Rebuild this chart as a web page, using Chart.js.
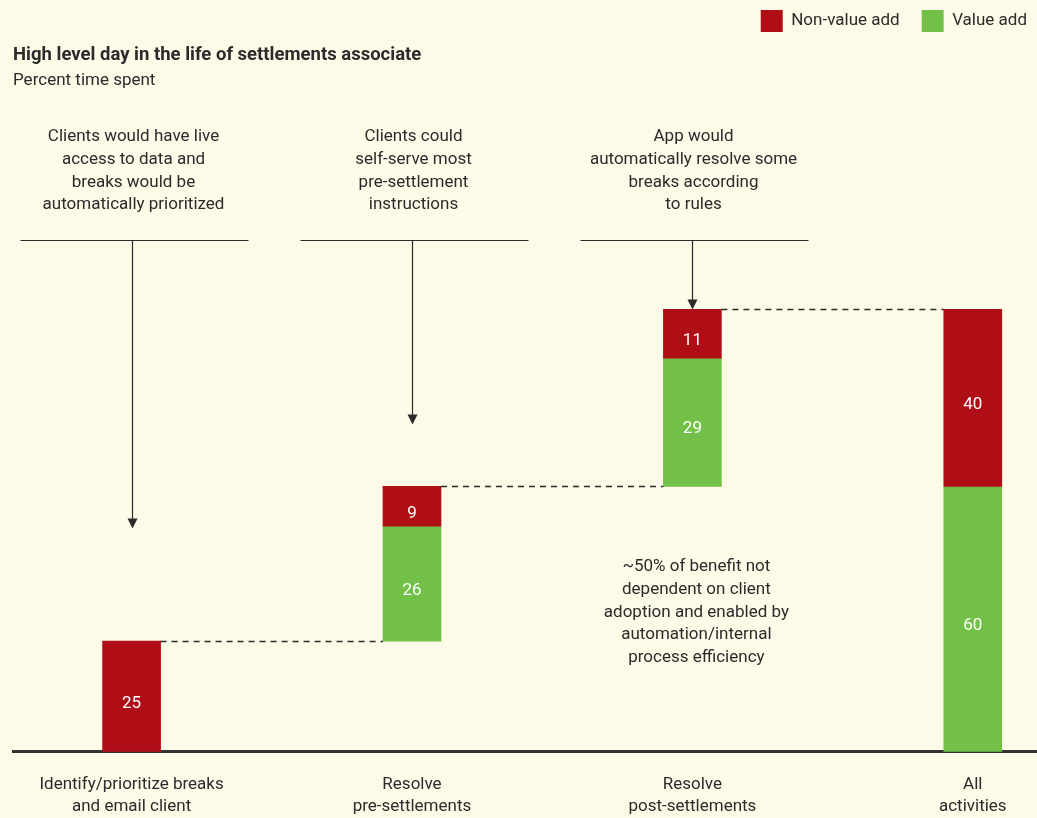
<!DOCTYPE html>
<html>
<head>
<meta charset="utf-8">
<script src="https://cdn.jsdelivr.net/npm/chart.js@4"></script>
<style>
  html, body { margin: 0; padding: 0; background: #fefae8; }
  #wrap { width: 1037px; height: 818px; }
</style>
</head>
<body>
<div id="wrap"><canvas id="chart" width="1037" height="818"></canvas></div>
<script>
// DATA
var categories = [
    ['Identify/prioritize breaks', 'and email client'],
    ['Resolve', 'pre-settlements'],
    ['Resolve', 'post-settlements'],
    ['All', 'activities']
];
var nonValueAdd = [25, 9, 11, 40];
var valueAdd = [0, 26, 29, 60];
var callouts = [
    ['Clients would have live', 'access to data and', 'breaks would be', 'automatically prioritized'],
    ['Clients could', 'self-serve most', 'pre-settlement', 'instructions'],
    ['App would', 'automatically resolve some', 'breaks according', 'to rules']
];
var calloutTargets = [50.5, 74, 100];
var note = ['~50% of benefit not', 'dependent on client', 'adoption and enabled by', 'automation/internal', 'process efficiency'];

var FONT = '"Roboto", "Liberation Sans", sans-serif';
var INK = '#2b2b2b';

// build the waterfall ranges
var redRanges = [];
var greenRanges = [];
var levels = [];
var running = 0;
for (var i = 0; i < categories.length; i++) {
    var last = (i == categories.length - 1);
    var base = last ? 0 : running;
    greenRanges.push(valueAdd[i] ? { x: i, y: [base, base + valueAdd[i]] } : { x: i, y: null });
    redRanges.push({ x: i, y: [base + valueAdd[i], base + valueAdd[i] + nonValueAdd[i]] });
    running = base + valueAdd[i] + nonValueAdd[i];
    levels.push(running);
}

//PLUGINS
const waterfallExtras = {
    id: 'waterfallExtras',
    afterDatasetsDraw(chart) {
        var ctx = chart.ctx;
        var x = chart.scales.x, y = chart.scales.y;
        var reds = chart.getDatasetMeta(0).data;

        // dashed connectors
        ctx.save();
        ctx.strokeStyle = INK;
        ctx.lineWidth = 1.5;
        ctx.setLineDash([6, 5]);
        for (var i = 0; i < levels.length - 1; i++) {
            var py = Math.round(y.getPixelForValue(levels[i])) + 0.5;
            var a = reds[i], b = reds[i + 1];
            ctx.beginPath();
            ctx.moveTo(a.x + a.width / 2, py);
            ctx.lineTo(b.x - b.width / 2, py);
            ctx.stroke();
        }
        ctx.restore();

        // value labels in the bars
        ctx.save();
        ctx.fillStyle = '#ffffff';
        ctx.font = '17px ' + FONT;
        ctx.textAlign = 'center';
        ctx.textBaseline = 'middle';
        [nonValueAdd, valueAdd].forEach(function(vals, d) {
            chart.getDatasetMeta(d).data.forEach(function(el, k) {
                if (!vals[k]) return;
                ctx.fillText(String(vals[k]), el.x, (el.y + el.base) / 2 + 7);
            });
        });
        ctx.restore();

        // callouts with rule and arrow
        ctx.save();
        ctx.fillStyle = INK;
        ctx.strokeStyle = INK;
        ctx.font = '17px ' + FONT;
        ctx.textAlign = 'center';
        ctx.textBaseline = 'middle';
        callouts.forEach(function(lines, k) {
            var cx = Math.round(x.getPixelForValue(k)) + 0.5;
            lines.forEach(function(t, j) {
                ctx.fillText(t, cx + 1, 137 + j * 22.7);
            });
            ctx.lineWidth = 1.2;
            ctx.beginPath();
            ctx.moveTo(cx - 112, 240.5);
            ctx.lineTo(cx + 116, 240.5);
            ctx.stroke();
            var ty = y.getPixelForValue(calloutTargets[k]);
            ctx.beginPath();
            ctx.moveTo(cx, 240.5);
            ctx.lineTo(cx, ty - 8);
            ctx.stroke();
            ctx.beginPath();
            ctx.moveTo(cx - 5, ty - 10);
            ctx.lineTo(cx + 5, ty - 10);
            ctx.lineTo(cx, ty);
            ctx.closePath();
            ctx.fill();
        });

        // middle note
        var nx = x.getPixelForValue(2) + 4;
        note.forEach(function(t, j) {
            ctx.fillText(t, nx, 567 + j * 22.7);
        });
        ctx.restore();
    }
};

//CHART
var chartGeo = new Chart(document.getElementById('chart'), {
    type: 'bar',
    data: {
        datasets: [
            { label: 'Non-value add', data: redRanges, backgroundColor: '#b00e17', barThickness: 58, grouped: false },
            { label: 'Value add', data: greenRanges, backgroundColor: '#72c047', barThickness: 58, grouped: false }
        ]
    },
    options: {
        responsive: false,
        animation: false,
        layout: { padding: { left: 13, right: -12, top: -12, bottom: -14 } },
        plugins: {
            legend: {
                position: 'top',
                align: 'end',
                weight: 3000,
                labels: {
                    boxWidth: 22, boxHeight: 22, padding: 22,
                    color: INK,
                    font: { family: FONT, size: 17 }
                }
            },
            title: {
                display: true,
                text: 'High level day in the life of settlements associate',
                align: 'start',
                color: INK,
                font: { family: FONT, size: 18.5, weight: 'bold' },
                padding: { top: 2, bottom: 2 }
            },
            subtitle: {
                display: true,
                text: 'Percent time spent',
                align: 'start',
                color: INK,
                font: { family: FONT, size: 17 },
                padding: { top: 2, bottom: 10 }
            },
            tooltip: { enabled: false }
        },
        scales: {
            x: {
                type: 'linear',
                offset: false,
                min: -0.4229,
                max: 3.229,
                grid: { display: false },
                border: { display: true, color: '#333', width: 3 },
                afterBuildTicks: function(scale) {
                    scale.ticks = categories.map(function(c, i) { return { value: i }; });
                },
                ticks: {
                    color: INK,
                    padding: 14,
                    maxRotation: 0,
                    autoSkip: false,
                    font: { family: FONT, size: 17, lineHeight: 1.3 },
                    callback: function(v) { return categories[v]; }
                }
            },
            y: {
                display: false,
                min: 0,
                max: 147.2
            }
        }
    },
    plugins: [waterfallExtras]
});
</script>
</body>
</html>
